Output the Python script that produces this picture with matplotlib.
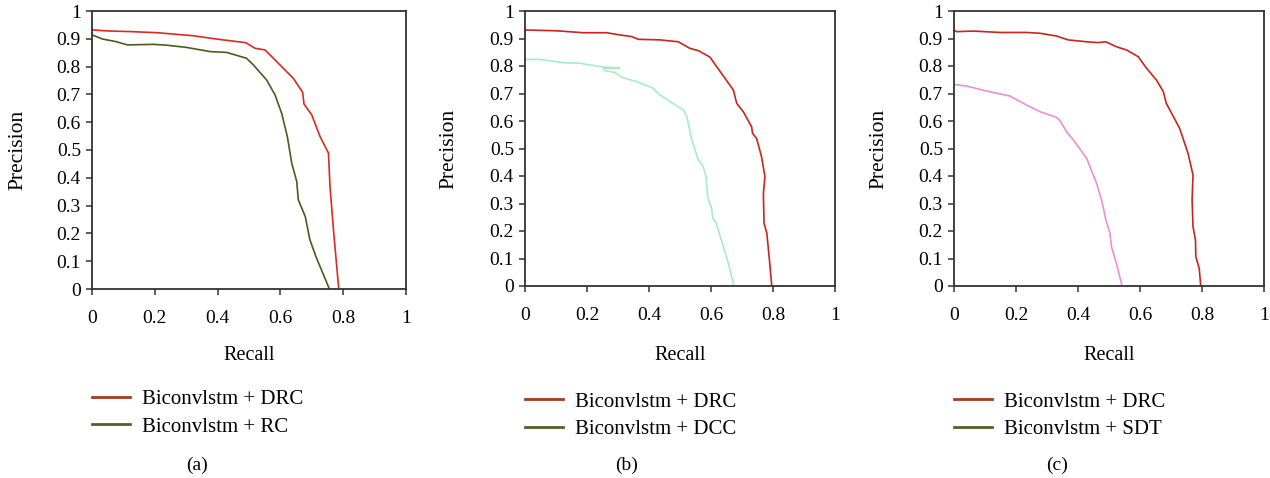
import matplotlib
matplotlib.use("Agg")
import matplotlib.pyplot as plt
from matplotlib.lines import Line2D

plt.rcParams["font.family"] = ["Liberation Serif", "DejaVu Serif"]

# panel (a)
a_drc_recall = [0.0, 0.055, 0.121, 0.206, 0.323, 0.397, 0.490, 0.519, 0.551, 0.588,
                0.641, 0.671, 0.675, 0.700, 0.726, 0.753, 0.758, 0.769, 0.777, 0.786]
a_drc_prec = [0.932, 0.928, 0.926, 0.922, 0.911, 0.899, 0.886, 0.866, 0.860, 0.818,
              0.758, 0.707, 0.666, 0.626, 0.549, 0.489, 0.369, 0.213, 0.111, 0.0]
a_rc_recall = [0.0, 0.034, 0.076, 0.113, 0.195, 0.238, 0.301, 0.376, 0.429, 0.492, 0.514,
               0.556, 0.583, 0.604, 0.622, 0.636, 0.652, 0.657, 0.679, 0.694, 0.713, 0.756]
a_rc_prec = [0.914, 0.899, 0.890, 0.878, 0.880, 0.877, 0.869, 0.854, 0.851, 0.830, 0.806,
             0.752, 0.698, 0.632, 0.549, 0.453, 0.387, 0.321, 0.261, 0.177, 0.117, 0.0]

# panel (b)
b_drc_recall = [0.0, 0.102, 0.188, 0.263, 0.306, 0.344, 0.366, 0.435, 0.495, 0.532, 0.559,
                0.597, 0.618, 0.672, 0.683, 0.704, 0.731, 0.734, 0.747, 0.763, 0.774,
                0.769, 0.771, 0.780, 0.788, 0.796]
b_drc_prec = [0.931, 0.928, 0.921, 0.921, 0.913, 0.907, 0.897, 0.895, 0.888, 0.864, 0.856,
              0.832, 0.798, 0.713, 0.664, 0.634, 0.579, 0.555, 0.537, 0.470, 0.398,
              0.337, 0.228, 0.192, 0.101, 0.0]
b_dcc_recall = [0.0, 0.048, 0.124, 0.177, 0.242, 0.306, 0.253, 0.258, 0.290, 0.312, 0.360,
                0.409, 0.435, 0.489, 0.511, 0.522, 0.538, 0.559, 0.575, 0.584, 0.589,
                0.602, 0.606, 0.616, 0.640, 0.656, 0.674]
b_dcc_prec = [0.824, 0.824, 0.812, 0.810, 0.798, 0.792, 0.792, 0.783, 0.776, 0.759, 0.743,
              0.722, 0.695, 0.655, 0.640, 0.616, 0.531, 0.458, 0.434, 0.398, 0.325,
              0.282, 0.246, 0.230, 0.143, 0.082, 0.0]

# panel (c)
c_drc_recall = [0.0, 0.008, 0.062, 0.148, 0.234, 0.277, 0.331, 0.368, 0.428, 0.465, 0.490,
                0.524, 0.557, 0.594, 0.621, 0.653, 0.675, 0.685, 0.728, 0.755, 0.771,
                0.768, 0.771, 0.779, 0.780, 0.791, 0.796]
c_drc_prec = [0.931, 0.925, 0.927, 0.922, 0.922, 0.919, 0.909, 0.895, 0.888, 0.885, 0.888,
              0.870, 0.858, 0.834, 0.792, 0.749, 0.707, 0.664, 0.573, 0.482, 0.404,
              0.313, 0.216, 0.167, 0.107, 0.064, 0.0]
c_sdt_recall = [0.0, 0.041, 0.105, 0.180, 0.234, 0.277, 0.331, 0.342, 0.363, 0.385, 0.428,
                0.460, 0.476, 0.490, 0.503, 0.508, 0.524, 0.542]
c_sdt_prec = [0.733, 0.727, 0.709, 0.691, 0.658, 0.634, 0.613, 0.601, 0.561, 0.531, 0.464,
              0.373, 0.313, 0.240, 0.192, 0.143, 0.082, 0.0]

ticks = [0, 0.2, 0.4, 0.6, 0.8, 1]
yticks = [0, 0.1, 0.2, 0.3, 0.4, 0.5, 0.6, 0.7, 0.8, 0.9, 1]
tick_labels = ["0", "0.2", "0.4", "0.6", "0.8", "1"]
ytick_labels = ["0", "0.1", "0.2", "0.3", "0.4", "0.5", "0.6", "0.7", "0.8", "0.9", "1"]

W, H = 1270, 478
fig = plt.figure(figsize=(W / 100, H / 100), dpi=100)

# pixel boxes of the three panels, measured on the reference
panels = [
    dict(left=92, right=406, top=11, bottom=289, tag="(a)", ylab_x=18, leg_y=413, tag_x=197,
         series=[(a_drc_recall, a_drc_prec, "#dc2a22"), (a_rc_recall, a_rc_prec, "#4b5c1f")],
         names=["Biconvlstm + DRC", "Biconvlstm + RC"]),
    dict(left=525, right=835, top=11, bottom=286, tag="(b)", ylab_x=449, leg_y=415.5, tag_x=627,
         series=[(b_drc_recall, b_drc_prec, "#c8251e"), (b_dcc_recall, b_dcc_prec, "#a6ecc6")],
         names=["Biconvlstm + DRC", "Biconvlstm + DCC"]),
    dict(left=954, right=1264, top=11, bottom=286, tag="(c)", ylab_x=879, leg_y=415.5, tag_x=1057,
         series=[(c_drc_recall, c_drc_prec, "#c8251e"), (c_sdt_recall, c_sdt_prec, "#ec8ed6")],
         names=["Biconvlstm + DRC", "Biconvlstm + SDT"]),
]

legend_colors = ["#a63b1d", "#4f6228"]

for p in panels:
    w = p["right"] - p["left"]
    h = p["bottom"] - p["top"]
    ax = fig.add_axes([p["left"] / W, 1 - p["bottom"] / H, w / W, h / H])
    for x, y, c in p["series"]:
        ax.plot(x, y, color=c, lw=1.2)
    ax.set_xlim(0, 1)
    ax.set_ylim(0, 1)
    ax.set_xticks(ticks)
    ax.set_xticklabels(tick_labels)
    ax.set_yticks(yticks)
    ax.set_yticklabels(ytick_labels)
    ax.tick_params(labelsize=14, length=4, width=1.1, color="#333333")
    ax.tick_params(axis="x", pad=11)
    ax.tick_params(axis="y", pad=4)
    for s in ax.spines.values():
        s.set_color("#333333")
        s.set_linewidth(1.3)
    ax.set_xlabel("Recall", fontsize=14.5, va="center")
    ax.xaxis.set_label_coords(0.5, -(355 - p["bottom"]) / h)
    ax.set_ylabel("Precision", fontsize=15.5, va="center")
    ax.yaxis.set_label_coords((p["ylab_x"] - p["left"]) / w, 0.5)
    handles = [Line2D([], [], color=c, lw=2) for c in legend_colors]
    fig.legend(handles, p["names"], loc="center left", frameon=False, fontsize=15,
               bbox_to_anchor=(p["left"] / W, 1 - p["leg_y"] / H),
               handlelength=1.8, handletextpad=0.6, labelspacing=0.38,
               borderaxespad=0, borderpad=0)
    fig.text(p["tag_x"] / W, 1 - 465 / H, p["tag"], ha="center", va="center", fontsize=14)

fig.savefig("out.png", dpi=100)
